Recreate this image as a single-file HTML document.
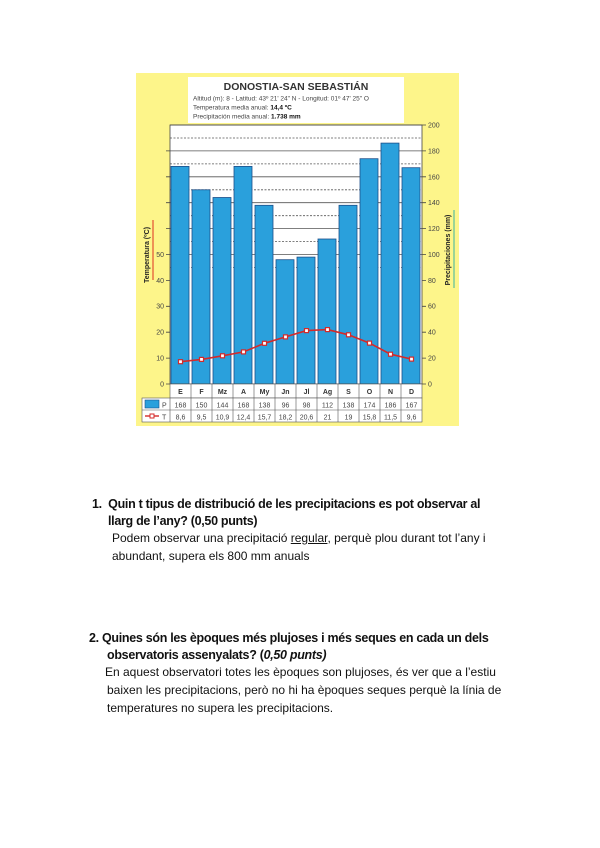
<!DOCTYPE html>
<html><head><meta charset="utf-8"><style>
body{margin:0;background:#fff;width:600px;height:848px;position:relative;font-family:"Liberation Sans",sans-serif;overflow:hidden}
.t{position:absolute;color:#111;white-space:nowrap}
.q{font-weight:bold;font-size:12.5px;letter-spacing:-0.3px}
.a{font-size:12px}
</style></head><body>
<svg width="600" height="440" style="position:absolute;left:0;top:0" font-family="Liberation Sans, sans-serif">
<rect x="136" y="73" width="323" height="353" fill="#fdf58a"/>
<rect x="188" y="77" width="216" height="46" fill="#fff"/>
<text x="296" y="90" font-size="10.5" font-weight="bold" text-anchor="middle" fill="#333">DONOSTIA-SAN SEBASTIÁN</text>
<text x="193" y="100.5" font-size="6.5" fill="#444">Altitud (m): 8 - Latitud: 43º 21' 24" N - Longitud: 01º 47' 25" O</text>
<text x="193" y="109.5" font-size="6.5" fill="#444">Temperatura media anual: <tspan font-weight="bold" fill="#111">14,4 ºC</tspan></text>
<text x="193" y="118.5" font-size="6.5" fill="#444">Precipitación media anual: <tspan font-weight="bold" fill="#111">1.738 mm</tspan></text>
<rect x="170" y="125" width="252" height="259" fill="#fff"/>
<g stroke="#555" stroke-width="0.8">
<line x1="170" y1="125" x2="422" y2="125"/><line x1="170" y1="138" x2="422" y2="138" stroke-dasharray="2,1.5"/>
<line x1="170" y1="150.9" x2="422" y2="150.9"/><line x1="170" y1="163.9" x2="422" y2="163.9" stroke-dasharray="2,1.5"/>
<line x1="170" y1="176.8" x2="422" y2="176.8"/><line x1="170" y1="189.8" x2="422" y2="189.8" stroke-dasharray="2,1.5"/>
<line x1="170" y1="202.7" x2="422" y2="202.7"/><line x1="170" y1="215.7" x2="422" y2="215.7" stroke-dasharray="2,1.5"/>
<line x1="170" y1="228.6" x2="422" y2="228.6"/><line x1="170" y1="241.6" x2="422" y2="241.6" stroke-dasharray="2,1.5"/>
<line x1="170" y1="254.5" x2="422" y2="254.5"/><line x1="170" y1="267.5" x2="422" y2="267.5" stroke-dasharray="2,1.5"/>
</g>
<g fill="#2aa0dc" stroke="#1c4f8a" stroke-width="0.8">
<rect x="171" y="166.4" width="18" height="217.6"/>
<rect x="192" y="189.8" width="18" height="194.2"/>
<rect x="213" y="197.5" width="18" height="186.5"/>
<rect x="234" y="166.4" width="18" height="217.6"/>
<rect x="255" y="205.3" width="18" height="178.7"/>
<rect x="276" y="259.7" width="18" height="124.3"/>
<rect x="297" y="257.1" width="18" height="126.9"/>
<rect x="318" y="239" width="18" height="145"/>
<rect x="339" y="205.3" width="18" height="178.7"/>
<rect x="360" y="158.7" width="18" height="225.3"/>
<rect x="381" y="143.1" width="18" height="240.9"/>
<rect x="402" y="167.7" width="18" height="216.3"/>
</g>
<rect x="170" y="125" width="252" height="259" fill="none" stroke="#444" stroke-width="0.8"/>
<g stroke="#444" stroke-width="0.8">
<path d="M166 384H170M166 358.1H170M166 332.2H170M166 306.3H170M166 280.4H170M166 254.5H170M166 228.6H170M166 202.7H170M166 176.8H170M166 150.9H170"/>
<path d="M422 384H426M422 358.1H426M422 332.2H426M422 306.3H426M422 280.4H426M422 254.5H426M422 228.6H426M422 202.7H426M422 176.8H426M422 150.9H426M422 125H426"/>
</g>
<polyline fill="none" stroke="#d42a2a" stroke-width="1.6" points="180.5,361.7 201.5,359.4 222.5,355.8 243.5,351.9 264.5,343.3 285.5,336.9 306.5,330.6 327.5,329.6 348.5,334.8 369.5,343.1 390.5,354.2 411.5,359.1"/>
<g fill="#fff" stroke="#d42a2a" stroke-width="1.2">
<rect x="178.5" y="359.7" width="4" height="4"/><rect x="199.5" y="357.4" width="4" height="4"/><rect x="220.5" y="353.8" width="4" height="4"/><rect x="241.5" y="349.9" width="4" height="4"/><rect x="262.5" y="341.3" width="4" height="4"/><rect x="283.5" y="334.9" width="4" height="4"/><rect x="304.5" y="328.6" width="4" height="4"/><rect x="325.5" y="327.6" width="4" height="4"/><rect x="346.5" y="332.8" width="4" height="4"/><rect x="367.5" y="341.1" width="4" height="4"/><rect x="388.5" y="352.2" width="4" height="4"/><rect x="409.5" y="357.1" width="4" height="4"/>
</g>
<g font-size="7" fill="#444" text-anchor="end">
<text x="164" y="386.5">0</text><text x="164" y="360.5">10</text><text x="164" y="334.6">20</text><text x="164" y="308.7">30</text><text x="164" y="282.8">40</text><text x="164" y="256.9">50</text>
</g>
<g font-size="7" fill="#444">
<text x="428" y="386.5">0</text><text x="428" y="360.5">20</text><text x="428" y="334.6">40</text><text x="428" y="308.7">60</text><text x="428" y="282.8">80</text><text x="428" y="256.9">100</text><text x="428" y="231">120</text><text x="428" y="205.2">140</text><text x="428" y="179.3">160</text><text x="428" y="153.4">180</text><text x="428" y="127.5">200</text>
</g>
<text transform="translate(149,255) rotate(-90)" font-size="7" font-weight="bold" text-anchor="middle" fill="#222">Temperatura (ºC)</text>
<line x1="153" y1="220" x2="153" y2="280" stroke="#e03020" stroke-width="1"/>
<text transform="translate(450,250) rotate(-90)" font-size="7" font-weight="bold" text-anchor="middle" fill="#222">Precipitaciones (mm)</text>
<line x1="454" y1="210" x2="454" y2="288" stroke="#3cb3a0" stroke-width="1"/>
<g stroke="#555" stroke-width="0.6" fill="none">
<rect x="170" y="384" width="252" height="14" fill="#fff"/>
<rect x="142" y="398" width="280" height="24" fill="#fff"/>
<line x1="142" y1="410" x2="422" y2="410"/>
<line x1="170" y1="398" x2="170" y2="422"/>
<path d="M191 384V422M212 384V422M233 384V422M254 384V422M275 384V422M296 384V422M317 384V422M338 384V422M359 384V422M380 384V422M401 384V422"/>
</g>
<rect x="145" y="400" width="14" height="8" fill="#2aa0dc" stroke="#1c4f8a" stroke-width="0.6"/>
<line x1="145" y1="416" x2="159" y2="416" stroke="#d42a2a" stroke-width="1.4"/>
<rect x="150" y="414" width="4" height="4" fill="#fff" stroke="#d42a2a"/>
<text x="162" y="407.5" font-size="7" fill="#444">P</text><text x="162" y="419.5" font-size="7" fill="#444">T</text>
<g font-size="7" font-weight="bold" fill="#333" text-anchor="middle">
<text x="180.5" y="394">E</text><text x="201.5" y="394">F</text><text x="222.5" y="394">Mz</text><text x="243.5" y="394">A</text><text x="264.5" y="394">My</text><text x="285.5" y="394">Jn</text><text x="306.5" y="394">Jl</text><text x="327.5" y="394">Ag</text><text x="348.5" y="394">S</text><text x="369.5" y="394">O</text><text x="390.5" y="394">N</text><text x="411.5" y="394">D</text>
</g>
<g font-size="7" fill="#444" text-anchor="middle">
<text x="180.5" y="407.5">168</text><text x="201.5" y="407.5">150</text><text x="222.5" y="407.5">144</text><text x="243.5" y="407.5">168</text><text x="264.5" y="407.5">138</text><text x="285.5" y="407.5">96</text><text x="306.5" y="407.5">98</text><text x="327.5" y="407.5">112</text><text x="348.5" y="407.5">138</text><text x="369.5" y="407.5">174</text><text x="390.5" y="407.5">186</text><text x="411.5" y="407.5">167</text>
<text x="180.5" y="419.5">8,6</text><text x="201.5" y="419.5">9,5</text><text x="222.5" y="419.5">10,9</text><text x="243.5" y="419.5">12,4</text><text x="264.5" y="419.5">15,7</text><text x="285.5" y="419.5">18,2</text><text x="306.5" y="419.5">20,6</text><text x="327.5" y="419.5">21</text><text x="348.5" y="419.5">19</text><text x="369.5" y="419.5">15,8</text><text x="390.5" y="419.5">11,5</text><text x="411.5" y="419.5">9,6</text>
</g>
</svg>
<div class="t q" style="left:92px;top:497px">1.&nbsp;&nbsp;Quin t tipus de distribució de les precipitacions es pot observar al</div>
<div class="t q" style="left:108px;top:514px">llarg de l’any? (0,50 punts)</div>
<div class="t a" style="left:112px;top:531px">Podem observar una precipitació <u>regular</u>, perquè plou durant tot l’any i</div>
<div class="t a" style="left:112px;top:549px">abundant, supera els 800 mm anuals</div>
<div class="t q" style="left:89px;top:631px">2. Quines són les èpoques més plujoses i més seques en cada un dels</div>
<div class="t q" style="left:107px;top:648px">observatoris assenyalats? (<i>0,50 punts)</i></div>
<div class="t a" style="left:105px;top:665px">En aquest observatori totes les èpoques son plujoses, és ver que a l’estiu</div>
<div class="t a" style="left:107px;top:683px">baixen les precipitacions, però no hi ha èpoques seques perquè la línia de</div>
<div class="t a" style="left:107px;top:701px">temperatures no supera les precipitacions.</div>
</body></html>
